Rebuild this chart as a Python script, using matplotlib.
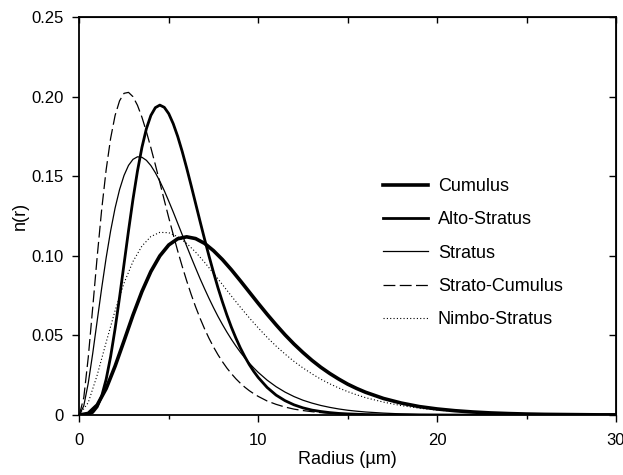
import numpy as np
import matplotlib
matplotlib.use("Agg")
import matplotlib.pyplot as plt

plt.rcParams['font.family'] = ['Liberation Sans', 'DejaVu Sans']

# Radius grids (um): fine grid for the narrow curves, coarse for the broad ones
r_fine = list(np.arange(0, 10.01, 0.25)) + list(np.arange(10.5, 16.01, 0.5)) + list(range(17, 31))
r_coarse = list(np.arange(0, 16.01, 0.5)) + list(range(17, 31))

# n(r) values, in units of 1e-4
cumulus = [0, 10, 63, 166, 307, 466, 628, 776, 902, 1000, 1069, 1108, 1120, 1109, 1079,
           1033, 977, 913, 844, 773, 702, 633, 567, 504, 446, 393, 344, 300, 261, 226,
           194, 167, 143, 104, 75, 53, 38, 27, 19, 13, 9, 6, 4, 3, 2, 1, 1]
nimbo_stratus = [0, 78, 251, 457, 656, 829, 965, 1062, 1122, 1148, 1146, 1121, 1079, 1024,
                 960, 891, 820, 748, 678, 611, 548, 488, 433, 383, 337, 296, 259, 225, 196,
                 170, 147, 127, 109, 81, 59, 43, 31, 23, 16, 12, 8, 6, 4, 3, 2, 1, 1]
alto_stratus = [0, 0, 3, 16, 51, 119, 224, 367, 542, 740, 949, 1158, 1356, 1533, 1682,
                1800, 1883, 1932, 1948, 1934, 1894, 1831, 1751, 1657, 1553, 1443, 1330,
                1217, 1106, 999, 897, 800, 711, 628, 552, 484, 422, 367, 317, 274, 236,
                173, 125, 90, 64, 45, 31, 22, 15, 10, 7, 5, 3,
                1, 1, 0, 0, 0, 0, 0, 0, 0, 0, 0, 0, 0, 0]
stratus = [0, 58, 200, 387, 593, 797, 988, 1157, 1301, 1417, 1506, 1569, 1607, 1623, 1620,
           1601, 1568, 1523, 1470, 1410, 1344, 1276, 1205, 1134, 1062, 992, 924, 857, 794,
           733, 675, 620, 569, 521, 476, 434, 395, 359, 326, 296, 268,
           219, 178, 144, 116, 93, 75, 60, 48, 38, 30, 24, 19,
           12, 7, 4, 3, 2, 1, 1, 0, 0, 0, 0, 0, 0, 0]
strato_cumulus = [0, 109, 362, 676, 996, 1291, 1541, 1739, 1883, 1975, 2022, 2028, 2001,
                  1947, 1872, 1781, 1680, 1573, 1462, 1350, 1240, 1134, 1031, 935, 844,
                  759, 680, 608, 542, 482, 428, 379, 335, 295, 260, 228, 200, 175, 153,
                  134, 117,
                  88, 67, 50, 37, 28, 21, 15, 11, 8, 6, 5, 3,
                  2, 1, 0, 0, 0, 0, 0, 0, 0, 0, 0, 0, 0, 0]

series = [
    ("Cumulus", r_coarse, cumulus, dict(lw=2.6)),
    ("Alto-Stratus", r_fine, alto_stratus, dict(lw=2.0)),
    ("Stratus", r_fine, stratus, dict(lw=0.9)),
    ("Strato-Cumulus", r_fine, strato_cumulus, dict(lw=0.9, dashes=(9.5, 3.5))),
    ("Nimbo-Stratus", r_coarse, nimbo_stratus, dict(lw=0.8, dashes=(1, 2))),
]

fig = plt.figure(figsize=(6.23, 4.75), dpi=100)
ax = fig.add_axes([0.1273, 0.1263, 0.8615, 0.8373])

for nombre, rr, vals, estilo in series:
    ax.plot(rr, [v * 1e-4 for v in vals], color="black", label=nombre, **estilo)

ax.set_xlim(0, 30)
ax.set_ylim(0, 0.25)
ax.set_xticks([0, 10, 20, 30])
ax.set_xticks([5, 15, 25], minor=True)
ax.set_yticks([0, 0.05, 0.10, 0.15, 0.20, 0.25])
ax.set_yticklabels(['0', '0.05', '0.10', '0.15', '0.20', '0.25'])
ax.tick_params(which='major', direction='out', length=5, width=1, labelsize=12)
ax.tick_params(axis='x', pad=8)
ax.tick_params(axis='y', pad=6)
ax.tick_params(which='minor', direction='out', length=3, width=1)
for s in ax.spines.values():
    s.set_linewidth(1.3)

# ticks hacia dentro arriba y a la derecha
top = ax.secondary_xaxis('top')
top.set_xticks([0, 5, 10, 15, 20, 25, 30])
top.tick_params(direction='in', length=4, width=1, labeltop=False)
right = ax.secondary_yaxis('right')
right.set_yticks([0, 0.05, 0.10, 0.15, 0.20, 0.25])
right.tick_params(direction='in', length=5, width=1, labelright=False)

ax.set_xlabel('Radius (µm)', fontsize=13, labelpad=2)
ax.set_ylabel('n(r)', fontsize=13, labelpad=2)
ax.legend(loc='upper left', bbox_to_anchor=(0.5485, 0.618), frameon=False, fontsize=13,
          borderpad=0, handlelength=2.5, handletextpad=0.55, labelspacing=0.9)

fig.savefig("out.png")
